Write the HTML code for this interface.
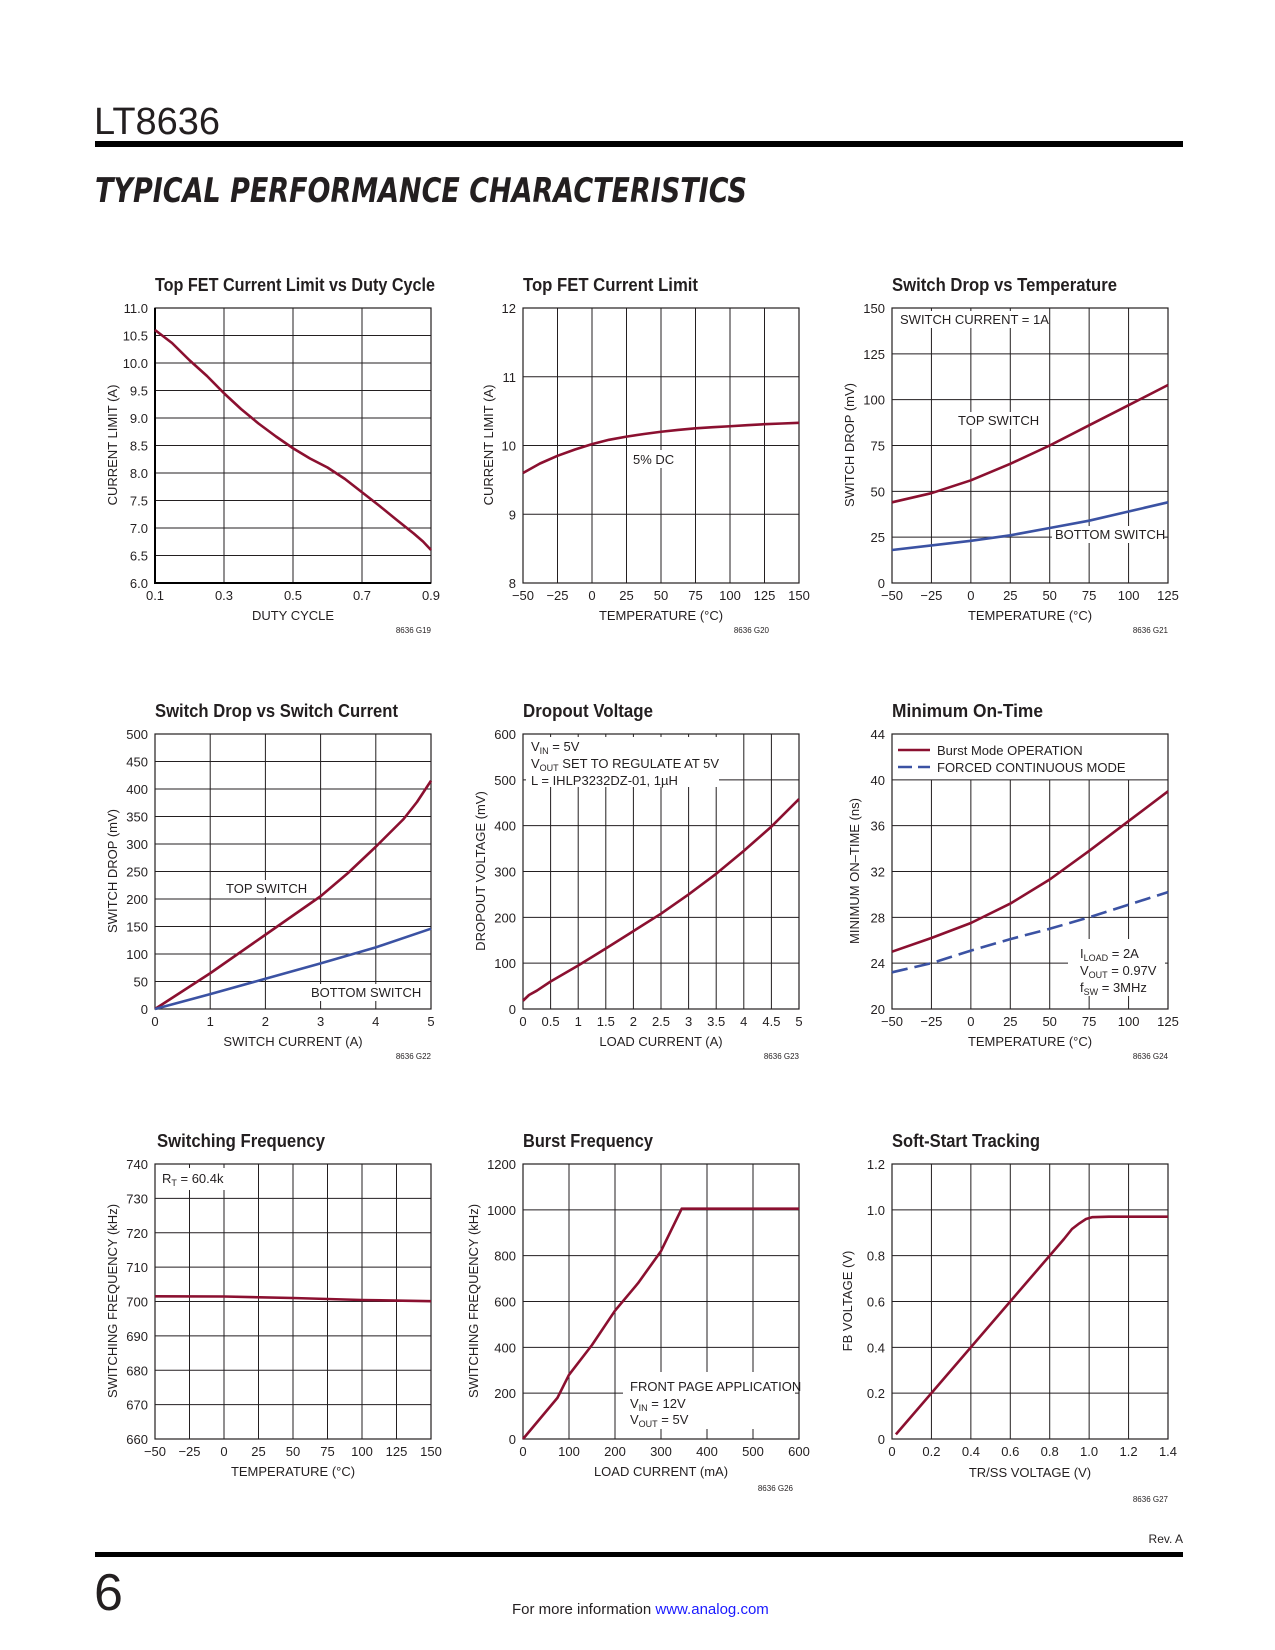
<!DOCTYPE html>
<html><head><meta charset="utf-8"><style>
html,body{margin:0;padding:0;background:#fff;}
svg{display:block;}
text{font-family:"Liberation Sans Narrow","Liberation Sans",sans-serif;fill:#231f20;}
.t{font-size:13px;}
.tt{font-size:18px;font-weight:bold;}
.g{stroke:#231f20;stroke-width:1;fill:none;}
.f{stroke:#231f20;stroke-width:1.2;fill:none;}
.r{stroke:#8b1030;stroke-width:2.6;fill:none;stroke-linejoin:round;}
.b{stroke:#3b52a3;stroke-width:2.6;fill:none;stroke-linejoin:round;}
.sm{font-size:8px;}
</style></head><body>
<svg width="1275" height="1650" viewBox="0 0 1275 1650" xmlns="http://www.w3.org/2000/svg">
<text x="94" y="134" style="font-size:38px;font-family:'Liberation Sans',sans-serif">LT8636</text>
<rect x="95" y="141" width="1088" height="6" fill="#000"/>
<text x="95" y="202" textLength="652" lengthAdjust="spacingAndGlyphs" style="font-size:34px;font-weight:900;font-style:italic;font-family:'DejaVu Sans',sans-serif">TYPICAL PERFORMANCE CHARACTERISTICS</text>

<!-- Plot 1 -->
<g transform="translate(155,308)">
<text class="tt" x="0" y="-17" textLength="280" lengthAdjust="spacingAndGlyphs">Top FET Current Limit vs Duty Cycle</text>
<path class="g" d="M69 0V275M138 0V275M207 0V275M0 27.5H276M0 55H276M0 82.5H276M0 110H276M0 137.5H276M0 165H276M0 192.5H276M0 220H276M0 247.5H276"/>
<rect class="f" x="0" y="0" width="276" height="275"/>
<path d="M0 0V275H276" stroke="#000" stroke-width="2" fill="none"/>
<polyline class="r" points="0,22 17,35 34.5,52.25 52,68 69,85.25 86,101 103.5,115.5 121,128.5 138,140.25 155,150.5 172.5,159.5 190,171 207,184.25 224,197.5 241.5,211.75 258.75,225.5 268,233.5 276,242"/>
<g class="t" text-anchor="end"><text x="-7" y="5">11.0</text><text x="-7" y="32.5">10.5</text><text x="-7" y="60">10.0</text><text x="-7" y="87.5">9.5</text><text x="-7" y="115">9.0</text><text x="-7" y="142.5">8.5</text><text x="-7" y="170">8.0</text><text x="-7" y="197.5">7.5</text><text x="-7" y="225">7.0</text><text x="-7" y="252.5">6.5</text><text x="-7" y="280">6.0</text></g>
<g class="t" text-anchor="middle"><text x="0" y="292">0.1</text><text x="69" y="292">0.3</text><text x="138" y="292">0.5</text><text x="207" y="292">0.7</text><text x="276" y="292">0.9</text><text x="138" y="312">DUTY CYCLE</text></g>
<text class="t" transform="translate(-38,137) rotate(-90)" text-anchor="middle">CURRENT LIMIT (A)</text>
<text class="sm" x="276" y="325" text-anchor="end">8636 G19</text>
</g>

<!-- Plot 2 -->
<g transform="translate(523,308)">
<text class="tt" x="0" y="-17" textLength="175" lengthAdjust="spacingAndGlyphs">Top FET Current Limit</text>
<path class="g" d="M34.5 0V275M69 0V275M103.5 0V275M138 0V275M172.5 0V275M207 0V275M241.5 0V275M0 68.75H276M0 137.5H276M0 206.25H276"/>
<rect class="f" x="0" y="0" width="276" height="275"/>
<rect x="108" y="142" width="44" height="18" fill="#fff"/>
<text class="t" x="110" y="156">5% DC</text>
<polyline class="r" points="0,165 17,155.5 34.5,147.8 52,141.5 69,136.1 86,131.8 103.5,128.6 121,126 138,123.75 155,121.9 172.5,120.3 190,119.2 207,118.25 224,117.2 241.5,116.2 259,115.5 276,114.8"/>
<g class="t" text-anchor="end"><text x="-7" y="5">12</text><text x="-7" y="73.75">11</text><text x="-7" y="142.5">10</text><text x="-7" y="211.25">9</text><text x="-7" y="280">8</text></g>
<g class="t" text-anchor="middle"><text x="0" y="292">−50</text><text x="34.5" y="292">−25</text><text x="69" y="292">0</text><text x="103.5" y="292">25</text><text x="138" y="292">50</text><text x="172.5" y="292">75</text><text x="207" y="292">100</text><text x="241.5" y="292">125</text><text x="276" y="292">150</text><text x="138" y="312">TEMPERATURE (°C)</text></g>
<text class="t" transform="translate(-30,137) rotate(-90)" text-anchor="middle">CURRENT LIMIT (A)</text>
<text class="sm" x="246" y="325" text-anchor="end">8636 G20</text>
</g>

<!-- Plot 3 -->
<g transform="translate(892,308)">
<text class="tt" x="0" y="-17" textLength="225" lengthAdjust="spacingAndGlyphs">Switch Drop vs Temperature</text>
<path class="g" d="M39.43 0V275M78.86 0V275M118.29 0V275M157.71 0V275M197.14 0V275M236.57 0V275M0 45.83H276M0 91.67H276M0 137.5H276M0 183.33H276M0 229.17H276"/>
<rect class="f" x="0" y="0" width="276" height="275"/>
<rect x="4" y="3" width="150" height="17" fill="#fff"/>
<text class="t" x="8" y="16">SWITCH CURRENT = 1A</text>
<rect x="62" y="104" width="86" height="17" fill="#fff"/>
<text class="t" x="66" y="117">TOP SWITCH</text>
<rect x="160" y="218" width="112" height="17" fill="#fff"/>
<text class="t" x="163" y="231">BOTTOM SWITCH</text>
<polyline class="r" points="0,194.3 39.4,185.2 78.9,172.3 118.3,155.8 157.7,137.5 197.1,117.3 236.6,97.2 276,77"/>
<polyline class="b" points="0,242 39.4,237.4 78.9,232.8 118.3,227.3 157.7,220 197.1,212.7 236.6,203.5 276,194.3"/>
<g class="t" text-anchor="end"><text x="-7" y="5">150</text><text x="-7" y="50.8">125</text><text x="-7" y="96.7">100</text><text x="-7" y="142.5">75</text><text x="-7" y="188.3">50</text><text x="-7" y="234.2">25</text><text x="-7" y="280">0</text></g>
<g class="t" text-anchor="middle"><text x="0" y="292">−50</text><text x="39.4" y="292">−25</text><text x="78.9" y="292">0</text><text x="118.3" y="292">25</text><text x="157.7" y="292">50</text><text x="197.1" y="292">75</text><text x="236.6" y="292">100</text><text x="276" y="292">125</text><text x="138" y="312">TEMPERATURE (°C)</text></g>
<text class="t" transform="translate(-38,137) rotate(-90)" text-anchor="middle">SWITCH DROP (mV)</text>
<text class="sm" x="276" y="325" text-anchor="end">8636 G21</text>
</g>

<!-- Plot 4 -->
<g transform="translate(155,734)">
<text class="tt" x="0" y="-17" textLength="243" lengthAdjust="spacingAndGlyphs">Switch Drop vs Switch Current</text>
<path class="g" d="M55.2 0V275M110.4 0V275M165.6 0V275M220.8 0V275M0 27.5H276M0 55H276M0 82.5H276M0 110H276M0 137.5H276M0 165H276M0 192.5H276M0 220H276M0 247.5H276"/>
<rect class="f" x="0" y="0" width="276" height="275"/>
<rect x="68" y="146" width="86" height="17" fill="#fff"/>
<text class="t" x="71" y="159">TOP SWITCH</text>
<rect x="152" y="250" width="112" height="17" fill="#fff"/>
<text class="t" x="156" y="263">BOTTOM SWITCH</text>
<polyline class="r" points="0,275 55.2,239.25 110.4,200.75 165.6,162.25 193,139 220.8,112.75 248.4,85.25 262,68 276,46.75"/>
<polyline class="b" points="0,275 55.2,260.15 110.4,244.75 165.6,229.35 220.8,213.4 276,194.7"/>
<g class="t" text-anchor="end"><text x="-7" y="5">500</text><text x="-7" y="32.5">450</text><text x="-7" y="60">400</text><text x="-7" y="87.5">350</text><text x="-7" y="115">300</text><text x="-7" y="142.5">250</text><text x="-7" y="170">200</text><text x="-7" y="197.5">150</text><text x="-7" y="225">100</text><text x="-7" y="252.5">50</text><text x="-7" y="280">0</text></g>
<g class="t" text-anchor="middle"><text x="0" y="292">0</text><text x="55.2" y="292">1</text><text x="110.4" y="292">2</text><text x="165.6" y="292">3</text><text x="220.8" y="292">4</text><text x="276" y="292">5</text><text x="138" y="312">SWITCH CURRENT (A)</text></g>
<text class="t" transform="translate(-38,137) rotate(-90)" text-anchor="middle">SWITCH DROP (mV)</text>
<text class="sm" x="276" y="325" text-anchor="end">8636 G22</text>
</g>

<!-- Plot 5 -->
<g transform="translate(523,734)">
<text class="tt" x="0" y="-17" textLength="130" lengthAdjust="spacingAndGlyphs">Dropout Voltage</text>
<path class="g" d="M27.6 0V275M55.2 0V275M82.8 0V275M110.4 0V275M138 0V275M165.6 0V275M193.2 0V275M220.8 0V275M248.4 0V275M0 45.83H276M0 91.67H276M0 137.5H276M0 183.33H276M0 229.17H276"/>
<rect class="f" x="0" y="0" width="276" height="275"/>
<rect x="3" y="3" width="193" height="50" fill="#fff"/>
<text class="t" x="8" y="17">V<tspan font-size="9" dy="3">IN</tspan><tspan dy="-3"> = 5V</tspan></text>
<text class="t" x="8" y="34">V<tspan font-size="9" dy="3">OUT</tspan><tspan dy="-3"> SET TO REGULATE AT 5V</tspan></text>
<text class="t" x="8" y="51">L = IHLP3232DZ-01, 1µH</text>
<polyline class="r" points="0,266.75 6,261 13.8,256.7 27.6,247.5 55.2,231.5 82.8,214.5 110.4,197.1 138,179.7 165.6,160.4 193.2,139.8 220.8,116.9 248.4,92.6 276,65.1"/>
<g class="t" text-anchor="end"><text x="-7" y="5">600</text><text x="-7" y="50.8">500</text><text x="-7" y="96.7">400</text><text x="-7" y="142.5">300</text><text x="-7" y="188.3">200</text><text x="-7" y="234.2">100</text><text x="-7" y="280">0</text></g>
<g class="t" text-anchor="middle"><text x="0" y="292">0</text><text x="27.6" y="292">0.5</text><text x="55.2" y="292">1</text><text x="82.8" y="292">1.5</text><text x="110.4" y="292">2</text><text x="138" y="292">2.5</text><text x="165.6" y="292">3</text><text x="193.2" y="292">3.5</text><text x="220.8" y="292">4</text><text x="248.4" y="292">4.5</text><text x="276" y="292">5</text><text x="138" y="312">LOAD CURRENT (A)</text></g>
<text class="t" transform="translate(-38,137) rotate(-90)" text-anchor="middle">DROPOUT VOLTAGE (mV)</text>
<text class="sm" x="276" y="325" text-anchor="end">8636 G23</text>
</g>

<!-- Plot 6 -->
<g transform="translate(892,734)">
<text class="tt" x="0" y="-17" textLength="151" lengthAdjust="spacingAndGlyphs">Minimum On-Time</text>
<path class="g" d="M39.43 45.83V275M78.86 45.83V275M118.29 45.83V275M157.71 45.83V275M197.14 45.83V275M236.57 45.83V275M0 45.83H276M0 91.67H276M0 137.5H276M0 183.33H276M0 229.17H276"/>
<rect class="f" x="0" y="0" width="276" height="275"/>
<rect x="176" y="205" width="97" height="57" fill="#fff"/>
<path class="r" d="M6 16H38"/>
<path class="b" d="M6 33H38" stroke-dasharray="14 6"/>
<text class="t" x="45" y="21">Burst Mode OPERATION</text>
<text class="t" x="45" y="38">FORCED CONTINUOUS MODE</text>
<text class="t" x="188" y="224">I<tspan font-size="9" dy="3">LOAD</tspan><tspan dy="-3"> = 2A</tspan></text>
<text class="t" x="188" y="241">V<tspan font-size="9" dy="3">OUT</tspan><tspan dy="-3"> = 0.97V</tspan></text>
<text class="t" x="188" y="258">f<tspan font-size="9" dy="3">SW</tspan><tspan dy="-3"> = 3MHz</tspan></text>
<polyline class="r" points="0,217.7 39.4,204 78.9,189 118.3,169.6 157.7,145.5 197.1,116.9 236.6,87.1 276,57.3"/>
<polyline class="b" stroke-dasharray="16 7" points="0,238.3 39.4,229.2 78.9,216.6 118.3,205.1 157.7,194.8 197.1,183.3 236.6,170.7 276,158.1"/>
<g class="t" text-anchor="end"><text x="-7" y="5">44</text><text x="-7" y="50.8">40</text><text x="-7" y="96.7">36</text><text x="-7" y="142.5">32</text><text x="-7" y="188.3">28</text><text x="-7" y="234.2">24</text><text x="-7" y="280">20</text></g>
<g class="t" text-anchor="middle"><text x="0" y="292">−50</text><text x="39.4" y="292">−25</text><text x="78.9" y="292">0</text><text x="118.3" y="292">25</text><text x="157.7" y="292">50</text><text x="197.1" y="292">75</text><text x="236.6" y="292">100</text><text x="276" y="292">125</text><text x="138" y="312">TEMPERATURE (°C)</text></g>
<text class="t" transform="translate(-33,137) rotate(-90)" text-anchor="middle">MINIMUM ON–TIME (ns)</text>
<text class="sm" x="276" y="325" text-anchor="end">8636 G24</text>
</g>

<!-- Plot 7 -->
<g transform="translate(155,1164)">
<text class="tt" x="2" y="-17" textLength="168" lengthAdjust="spacingAndGlyphs">Switching Frequency</text>
<path class="g" d="M34.5 0V275M69 0V275M103.5 0V275M138 0V275M172.5 0V275M207 0V275M241.5 0V275M0 34.375H276M0 68.75H276M0 103.125H276M0 137.5H276M0 171.875H276M0 206.25H276M0 240.625H276"/>
<rect class="f" x="0" y="0" width="276" height="275"/>
<rect x="3" y="4" width="70" height="22" fill="#fff"/>
<text class="t" x="7" y="19">R<tspan font-size="9" dy="3">T</tspan><tspan dy="-3"> = 60.4k</tspan></text>
<polyline class="r" points="0,132.3 69,132.5 138,134 207,136 276,137.2"/>
<g class="t" text-anchor="end"><text x="-7" y="5">740</text><text x="-7" y="39.4">730</text><text x="-7" y="73.75">720</text><text x="-7" y="108.1">710</text><text x="-7" y="142.5">700</text><text x="-7" y="176.9">690</text><text x="-7" y="211.25">680</text><text x="-7" y="245.6">670</text><text x="-7" y="280">660</text></g>
<g class="t" text-anchor="middle"><text x="0" y="292">−50</text><text x="34.5" y="292">−25</text><text x="69" y="292">0</text><text x="103.5" y="292">25</text><text x="138" y="292">50</text><text x="172.5" y="292">75</text><text x="207" y="292">100</text><text x="241.5" y="292">125</text><text x="276" y="292">150</text><text x="138" y="312">TEMPERATURE (°C)</text></g>
<text class="t" transform="translate(-38,137) rotate(-90)" text-anchor="middle">SWITCHING FREQUENCY (kHz)</text>
</g>

<!-- Plot 8 -->
<g transform="translate(523,1164)">
<text class="tt" x="0" y="-17" textLength="130" lengthAdjust="spacingAndGlyphs">Burst Frequency</text>
<path class="g" d="M46 0V275M92 0V275M138 0V275M184 0V275M230 0V275M0 45.83H276M0 91.67H276M0 137.5H276M0 183.33H276M0 229.17H276"/>
<rect class="f" x="0" y="0" width="276" height="275"/>
<rect x="100" y="208" width="172" height="57" fill="#fff"/>
<text class="t" x="107" y="227">FRONT PAGE APPLICATION</text>
<text class="t" x="107" y="244">V<tspan font-size="9" dy="3">IN</tspan><tspan dy="-3"> = 12V</tspan></text>
<text class="t" x="107" y="260">V<tspan font-size="9" dy="3">OUT</tspan><tspan dy="-3"> = 5V</tspan></text>
<path class="r" d="M0 275L34.5 233.75L46 210.8L69 181L92 146.7L115 119.2L138 87.1L158.7 44.7H276"/>
<g class="t" text-anchor="end"><text x="-7" y="5">1200</text><text x="-7" y="50.8">1000</text><text x="-7" y="96.7">800</text><text x="-7" y="142.5">600</text><text x="-7" y="188.3">400</text><text x="-7" y="234.2">200</text><text x="-7" y="280">0</text></g>
<g class="t" text-anchor="middle"><text x="0" y="292">0</text><text x="46" y="292">100</text><text x="92" y="292">200</text><text x="138" y="292">300</text><text x="184" y="292">400</text><text x="230" y="292">500</text><text x="276" y="292">600</text><text x="138" y="312">LOAD CURRENT (mA)</text></g>
<text class="t" transform="translate(-45,137) rotate(-90)" text-anchor="middle">SWITCHING FREQUENCY (kHz)</text>
<text class="sm" x="270" y="327" text-anchor="end">8636 G26</text>
</g>

<!-- Plot 9 -->
<g transform="translate(892,1164)">
<text class="tt" x="0" y="-17" textLength="148" lengthAdjust="spacingAndGlyphs">Soft-Start Tracking</text>
<path class="g" d="M39.43 0V275M78.86 0V275M118.29 0V275M157.71 0V275M197.14 0V275M236.57 0V275M0 45.83H276M0 91.67H276M0 137.5H276M0 183.33H276M0 229.17H276"/>
<rect class="f" x="0" y="0" width="276" height="275"/>
<polyline class="r" points="3.9,270.4 172,75 180,65 187.3,59.4 194,55 200,53.2 216.9,52.7 276,52.7"/>
<g class="t" text-anchor="end"><text x="-7" y="5">1.2</text><text x="-7" y="50.8">1.0</text><text x="-7" y="96.7">0.8</text><text x="-7" y="142.5">0.6</text><text x="-7" y="188.3">0.4</text><text x="-7" y="234.2">0.2</text><text x="-7" y="280">0</text></g>
<g class="t" text-anchor="middle"><text x="0" y="292">0</text><text x="39.4" y="292">0.2</text><text x="78.9" y="292">0.4</text><text x="118.3" y="292">0.6</text><text x="157.7" y="292">0.8</text><text x="197.1" y="292">1.0</text><text x="236.6" y="292">1.2</text><text x="276" y="292">1.4</text><text x="138" y="313">TR/SS VOLTAGE (V)</text></g>
<text class="t" transform="translate(-40,137) rotate(-90)" text-anchor="middle">FB VOLTAGE (V)</text>
<text class="sm" x="276" y="338" text-anchor="end">8636 G27</text>
</g>

<text x="1183" y="1543" text-anchor="end" style="font-size:12px">Rev. A</text>
<rect x="95" y="1552" width="1088" height="5" fill="#000"/>
<text x="94" y="1610" style="font-size:52px;font-family:'Liberation Sans',sans-serif">6</text>
<text x="512" y="1614" style="font-size:15px">For more information <tspan style="fill:#1a1aff">www.analog.com</tspan></text>
</svg>
</body></html>
